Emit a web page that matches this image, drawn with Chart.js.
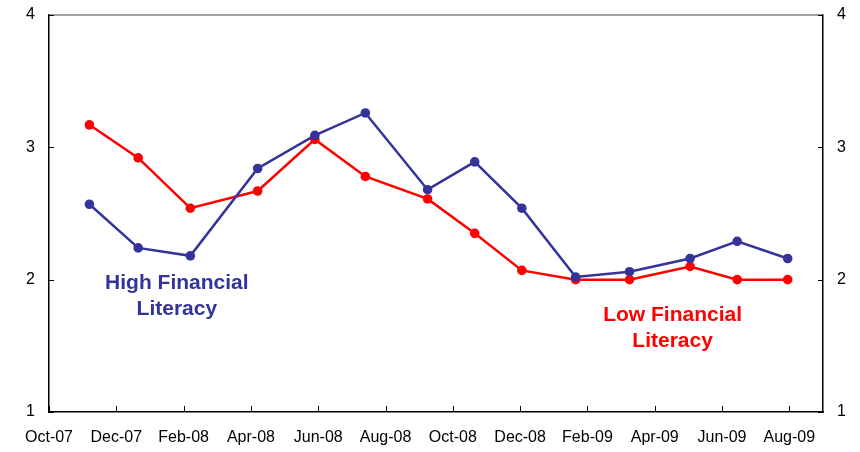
<!DOCTYPE html>
<html>
<head>
<meta charset="utf-8">
<script src="https://cdn.jsdelivr.net/npm/chart.js@4/dist/chart.umd.min.js"></script>
<style>
  html, body { margin: 0; padding: 0; background: #fff; }
  #wrap { width: 860px; height: 452px; }
</style>
</head>
<body>
<div id="wrap"><canvas id="chart" width="860" height="452"></canvas></div>
<script>
// months since Oct-07 for each survey wave
const surveyMonths = [1.2, 2.65, 4.2, 6.2, 7.9, 9.4, 11.25, 12.65, 14.05, 15.65, 17.25, 19.05, 20.45, 21.95]
const highLiteracy = [2.57, 2.24, 2.18, 2.84, 3.09, 3.26, 2.68, 2.89, 2.54, 2.02, 2.06, 2.16, 2.29, 2.16]
const lowLiteracy = [3.17, 2.92, 2.54, 2.67, 3.06, 2.78, 2.61, 2.35, 2.07, 2.00, 2.00, 2.10, 2.00, 2.00]
const tickMonths = [0, 2, 4, 6, 8, 10, 12, 14, 16, 18, 20, 22]
const tickLabels = ['Oct-07', 'Dec-07', 'Feb-08', 'Apr-08', 'Jun-08', 'Aug-08', 'Oct-08', 'Dec-08', 'Feb-09', 'Apr-09', 'Jun-09', 'Aug-09']
const yTicks = [1, 2, 3, 4]

const blue = '#333399'
const red = '#ff0000'
const font = 'Liberation Sans, Arial, sans-serif'

const toPoints = (vals) => vals.map((v, i) => ({x: surveyMonths[i], y: v}))

// inward tick marks, top frame line and the two series labels
const extras = {
  id: 'extras',
  afterDraw(chart) {
    const {ctx, chartArea: a, scales} = chart
    ctx.save()
    ctx.strokeStyle = '#808080'
    ctx.lineWidth = 1.5
    ctx.beginPath(); ctx.moveTo(a.left, a.top); ctx.lineTo(a.right, a.top); ctx.stroke()
    ctx.strokeStyle = '#000'
    ctx.lineWidth = 1
    ctx.beginPath()
    tickMonths.forEach(m => {
      const x = Math.round(scales.x.getPixelForValue(m)) + 0.5
      ctx.moveTo(x, a.bottom); ctx.lineTo(x, a.bottom - 6)
    })
    yTicks.forEach(v => {
      const y = Math.round(scales.y.getPixelForValue(v)) + 0.5
      ctx.moveTo(a.left, y); ctx.lineTo(a.left + 5, y)
      ctx.moveTo(a.right, y); ctx.lineTo(a.right - 5, y)
    })
    ctx.stroke()

    ctx.font = 'bold 21px ' + font
    ctx.textAlign = 'center'
    ctx.textBaseline = 'middle'
    const label = (lines, mx, vy, color) => {
      ctx.fillStyle = color
      lines.forEach((t, i) => {
        ctx.fillText(t, scales.x.getPixelForValue(mx), scales.y.getPixelForValue(vy) + i * 26)
      })
    }
    label(['High Financial', 'Literacy'], 3.8, 1.975, blue)
    label(['Low Financial', 'Literacy'], 18.53, 1.733, red)
    ctx.restore()
  }
}

const axisBorder = {display: true, color: '#000', width: 1.5}
const noGrid = {display: true, drawOnChartArea: false, drawTicks: false}
const fitY = (w) => s => { s.width = w; s.paddingTop = 0; s.paddingBottom = 0 }

new Chart(document.getElementById('chart'), {
  type: 'line',
  data: {
    datasets: [
      {label: 'High Financial Literacy', data: toPoints(highLiteracy), borderColor: blue, backgroundColor: blue,
        borderWidth: 2.5, pointRadius: 4.8, pointBorderWidth: 0, tension: 0},
      {label: 'Low Financial Literacy', data: toPoints(lowLiteracy), borderColor: red, backgroundColor: red,
        borderWidth: 2.5, pointRadius: 4.8, pointBorderWidth: 0, tension: 0}
    ]
  },
  options: {
    responsive: false,
    animation: false,
    layout: {padding: {top: 15, left: 0, right: 0, bottom: 0}},
    plugins: {legend: {display: false}, tooltip: {enabled: false}},
    scales: {
      x: {
        type: 'linear', min: 0, max: 23,
        afterBuildTicks: s => { s.ticks = tickMonths.map(v => ({value: v})) },
        afterFit: s => { s.height = 40; s.paddingLeft = 0; s.paddingRight = 0 },
        ticks: {
          autoSkip: false, maxRotation: 0, padding: 16, color: '#000',
          font: {family: font, size: 16},
          callback: v => tickLabels[tickMonths.indexOf(v)] || ''
        },
        grid: noGrid, border: axisBorder
      },
      y: {
        position: 'left', min: 1, max: 4,
        afterBuildTicks: s => { s.ticks = yTicks.map(v => ({value: v})) },
        afterFit: fitY(49),
        ticks: {padding: 14, color: '#000', font: {family: font, size: 16}},
        grid: noGrid, border: axisBorder
      },
      y2: {
        position: 'right', min: 1, max: 4,
        afterBuildTicks: s => { s.ticks = yTicks.map(v => ({value: v})) },
        afterFit: fitY(37),
        ticks: {padding: 14, color: '#000', font: {family: font, size: 16}},
        grid: noGrid, border: axisBorder
      }
    }
  },
  plugins: [extras]
})
</script>
</body>
</html>
